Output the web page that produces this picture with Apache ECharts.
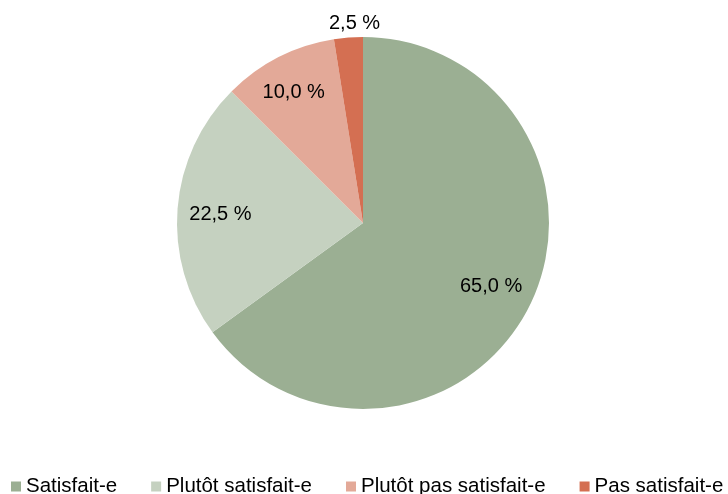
<!DOCTYPE html>
<html>
<head>
<meta charset="utf-8">
<script src="https://cdn.jsdelivr.net/npm/echarts@6/dist/echarts.min.js"></script>
<style>
  html, body { margin: 0; padding: 0; background: #fff; }
  #chart { width: 728px; height: 494px; }
</style>
</head>
<body>
<div id="chart"></div>
<script>
const categories = ['Satisfait-e', 'Plutôt satisfait-e', 'Plutôt pas satisfait-e', 'Pas satisfait-e'];
const values = [65.0, 22.5, 10.0, 2.5];
const colors = ['#9baf93', '#c5d1c0', '#e3a998', '#d46f52'];

// label tweaks to follow the original placement
const labelOffsets = [[-2, -3], [3, 3], [-3, 0], [3, -54]];

const chart = echarts.init(document.getElementById('chart'));

const fmt = v => v.toFixed(1).replace('.', ',') + ' %';

const pieData = categories.map((name, i) => ({
    name: name,
    value: values[i],
    itemStyle: { color: colors[i] }
}));

const labelData = categories.map((name, i) => ({
    name: name,
    value: values[i],
    label: { offset: labelOffsets[i] }
}));

const option = {
    animation: false,
    textStyle: { fontFamily: 'Liberation Sans, Arial, sans-serif' },
    legend: {
        data: categories,
        left: 11,
        top: 476,
        padding: 0,
        itemGap: 34,
        itemWidth: 10,
        itemHeight: 10,
        icon: 'rect',
        textStyle: { fontSize: 20.5, color: '#000', fontFamily: 'Liberation Sans, Arial, sans-serif' }
    },
    series: [
        {
            type: 'pie',
            center: [363, 223],
            radius: [0, 186],
            startAngle: 90,
            clockwise: true,
            silent: true,
            label: { show: false },
            labelLine: { show: false },
            itemStyle: { borderWidth: 0 },
            data: pieData
        },
        {
            // transparent ring only used to place the labels
            type: 'pie',
            center: [363, 223],
            radius: [100, 186],
            startAngle: 90,
            clockwise: true,
            silent: true,
            legendHoverLink: false,
            itemStyle: { color: 'rgba(0,0,0,0)' },
            label: {
                show: true,
                position: 'inside',
                fontSize: 20,
                color: '#000',
                fontFamily: 'Liberation Sans, Arial, sans-serif',
                formatter: p => fmt(p.value)
            },
            labelLine: { show: false },
            data: labelData
        }
    ]
};

chart.setOption(option);
</script>
</body>
</html>
